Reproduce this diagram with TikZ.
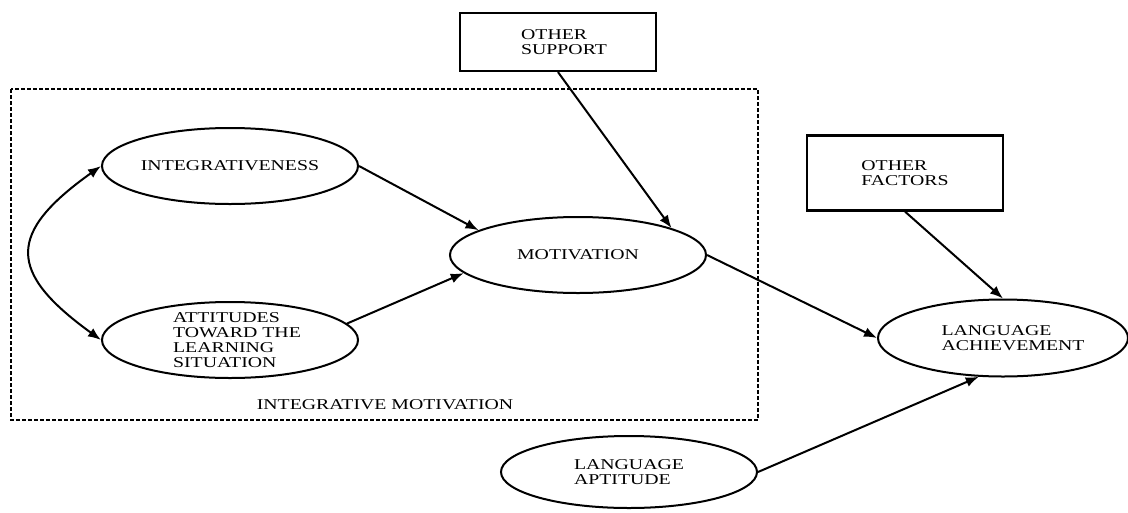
\documentclass[tikz,border=0pt]{standalone}
\usepackage{fontspec}
\setmainfont{Liberation Serif}[FakeStretch=1.32]
\usepackage{tikz}
\usetikzlibrary{positioning,arrows.meta,shapes.geometric}

\begin{document}
\begin{tikzpicture}[
  x=1pt,y=-1pt,
  factor/.style={ellipse,draw,line width=2pt,minimum width=256pt,minimum height=76pt,inner xsep=-5pt,inner ysep=0pt,align=left,font=\fontsize{15pt}{15pt}\selectfont},
  other/.style={rectangle,draw,line width=2.2pt,minimum width=196pt,align=left,font=\fontsize{15pt}{15pt}\selectfont},
  grp/.style={draw,line width=1.5pt,dash pattern=on 4pt off 2pt},
  arr/.style={-{Latex[length=13pt,width=10pt]},line width=2pt},
  dbl/.style={{Latex[length=13pt,width=10pt]}-{Latex[length=13pt,width=10pt]},line width=2pt},
]
\useasboundingbox (0,0) rectangle (1128,512);

% Integrative motivation block
\draw[grp] (11,89) rectangle (758,420);
\node[font=\fontsize{15pt}{15pt}\selectfont] (intlbl) at (385,405) {INTEGRATIVE MOTIVATION};

\node[factor] (integ) at (230,166) {INTEGRATIVENESS};
\node[factor,below=96pt of integ,inner ysep=-15pt] (att) {\hspace*{14pt}ATTITUDES\\\hspace*{14pt}TOWARD THE\\\hspace*{14pt}LEARNING\\\hspace*{14pt}SITUATION};
\node[factor] (motiv) at (578,255) {MOTIVATION};

% Outside factors
\node[other,minimum height=58pt] (osup) at (558,42) {\hspace*{12pt}OTHER\\\hspace*{12pt}SUPPORT};
\node[other,minimum height=75pt] (ofac) at (905,173) {OTHER\\FACTORS};
\node[factor,minimum width=250pt,minimum height=77pt] (lach) at (1003,338) {\hspace*{20pt}LANGUAGE\\\hspace*{20pt}ACHIEVEMENT};
\node[factor,minimum height=72pt] (lapt) at (629,472) {LANGUAGE\\APTITUDE};

% Arrows
\draw[dbl] (integ.west) .. controls +(-94,67) and +(-94,-68) .. (att.west);
\draw[arr] (integ.east) -- (motiv.166);
\draw[arr] (att.8) -- (motiv.189);
\draw[arr] (osup.south) -- (motiv.16);
\draw[arr] (motiv.east) -- (lach.west);
\draw[arr] (ofac.south) -- (lach.north);
\draw[arr] (lapt.east) -- (lach.238);

\end{tikzpicture}
\end{document}
